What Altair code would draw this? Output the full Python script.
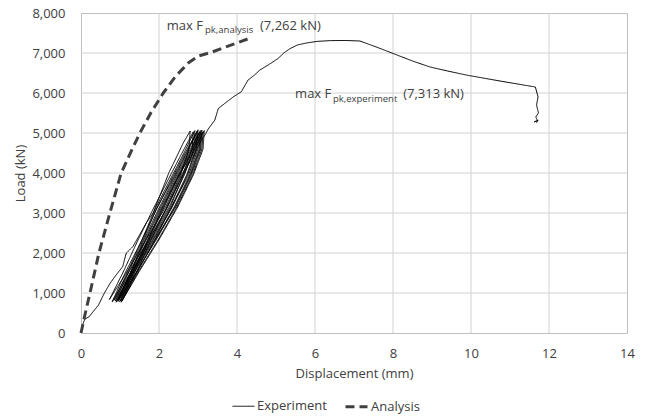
import altair as alt
import pandas as pd

# ---- Experiment: initial loading + first unloading
init_disp = [0.00, 0.04, 0.10, 0.20, 0.30, 0.45, 0.60, 0.75, 0.90, 1.07, 1.12, 1.16, 1.33, 1.50, 1.67,
             1.85, 2.05, 2.25, 2.45, 2.62, 2.80, 2.77, 2.55, 2.17, 1.68, 1.19]
init_load = [0, 200, 350, 400, 520, 700, 1000, 1250, 1450, 1660, 1850, 1995, 2160, 2450, 2745,
             3000, 3500, 4000, 4400, 4750, 5050, 4600, 3950, 3150, 2350, 1550]

# ---- Experiment: repeated load cycles (valley, 5 reloading pts, peak, 5 unloading pts)
cycle_disp = [
    [0.73, 1.07, 1.45, 1.85, 2.27, 2.59, 2.88, 2.85, 2.61, 2.22, 1.75, 1.24],
    [0.80, 1.13, 1.55, 1.90, 2.32, 2.64, 2.92, 2.89, 2.65, 2.26, 1.79, 1.29],
    [0.85, 1.18, 1.55, 1.94, 2.35, 2.67, 2.95, 2.92, 2.63, 2.29, 1.82, 1.32],
    [0.88, 1.21, 1.58, 1.93, 2.38, 2.70, 2.98, 2.95, 2.71, 2.32, 1.85, 1.34],
    [0.90, 1.27, 1.60, 1.99, 2.40, 2.72, 3.00, 2.97, 2.73, 2.34, 1.87, 1.37],
    [0.93, 1.26, 1.63, 2.02, 2.43, 2.75, 3.03, 3.00, 2.76, 2.32, 1.90, 1.39],
    [0.95, 1.28, 1.65, 2.05, 2.46, 2.78, 3.06, 3.03, 2.79, 2.39, 1.92, 1.45],
    [0.97, 1.30, 1.71, 2.07, 2.48, 2.80, 3.08, 3.05, 2.81, 2.41, 1.94, 1.43],
    [0.99, 1.32, 1.69, 2.09, 2.50, 2.82, 3.10, 3.07, 2.83, 2.43, 1.91, 1.45],
    [1.01, 1.34, 1.72, 2.11, 2.49, 2.85, 3.13, 3.10, 2.86, 2.46, 1.99, 1.48],
    [1.03, 1.37, 1.74, 2.18, 2.55, 2.88, 3.16, 3.13, 2.88, 2.48, 2.01, 1.50],
]
cycle_valley_load = [840, 780, 820, 800, 770, 810, 790, 830, 780, 800, 770]
cycle_peak_load = [5030, 5060, 4990, 5050, 5080, 5010, 5060, 5000, 5070, 5030, 5060]
up_loads = [1500, 2300, 3100, 3900, 4500]
down_loads = [4600, 3950, 3150, 2350, 1550]

# ---- Experiment: final loading to failure
final_disp = [1.05, 1.42, 1.78, 2.18, 2.58, 2.92, 3.10, 3.18, 3.25, 3.30, 3.43, 3.52, 3.70, 3.90,
              4.11, 4.28, 4.45, 4.58, 4.80, 5.05, 5.20, 5.36, 5.55, 5.78, 6.05, 6.40, 6.80, 7.15,
              7.60, 8.01, 8.50, 8.95, 9.40, 9.90, 10.80, 11.65, 11.72, 11.68, 11.73, 11.66, 11.71,
              11.62, 11.72, 11.68]
final_load = [800, 1500, 2300, 3100, 3900, 4500, 4850, 4950, 5080, 5150, 5320, 5610, 5750, 5900,
              6030, 6320, 6450, 6570, 6700, 6860, 7000, 7110, 7200, 7250, 7290, 7310, 7313, 7300,
              7140, 6985, 6800, 6650, 6550, 6445, 6290, 6150, 5900, 5700, 5500, 5400, 5300,
              5280, 5320, 5260]

# ---- Analysis
ana_disp = [0.00, 0.10, 0.23, 0.46, 0.74, 1.03, 1.30, 1.51, 1.80, 2.11, 2.41, 2.75, 3.00, 3.35, 3.77, 4.37]
ana_load = [0, 450, 1000, 2000, 3000, 4000, 4570, 5000, 5520, 6000, 6400, 6750, 6920, 7020, 7170, 7385]

x_ticks = [0, 2, 4, 6, 8, 10, 12, 14]
y_ticks = [0, 1000, 2000, 3000, 4000, 5000, 6000, 7000, 8000]
series_names = ["Experiment", "Analysis"]

rows = []
idx = 0
for x, y in zip(init_disp, init_load):
    rows.append({"disp": x, "load": y, "series": "Experiment", "idx": idx}); idx += 1
for k, xs in enumerate(cycle_disp):
    loads = [cycle_valley_load[k]] + up_loads + [cycle_peak_load[k]] + down_loads
    for x, y in zip(xs, loads):
        rows.append({"disp": x, "load": y, "series": "Experiment", "idx": idx}); idx += 1
for x, y in zip(final_disp, final_load):
    rows.append({"disp": x, "load": y, "series": "Experiment", "idx": idx}); idx += 1
for i, (x, y) in enumerate(zip(ana_disp, ana_load)):
    rows.append({"disp": x, "load": y, "series": "Analysis", "idx": i})
df = pd.DataFrame(rows)

# ---- Annotations
ann_main = pd.DataFrame({
    "disp": [2.20, 4.59, 5.49, 8.26],
    "load": [7575, 7575, 5875, 5875],
    "t": ["max F", "(7,262 kN)", "max F", "(7,313 kN)"],
})
ann_sub = pd.DataFrame({
    "disp": [3.18, 6.46],
    "load": [7493, 5775],
    "t": ["pk,analysis", "pk,experiment"],
})

FONT = "Open Sans"
TXT = "#404040"
GRID = "#d2d2d2"
W, H = 546, 320

xscale = alt.Scale(domain=[0, 14], nice=False, zero=False)
yscale = alt.Scale(domain=[0, 8000], nice=False, zero=False)

x_axis = alt.Axis(title="Displacement (mm)", values=x_ticks, format="d",
                  labelPadding=14, labelFlush=False, titleY=40, titleBaseline="middle",
                  grid=False, domain=False, ticks=False)
y_axis = alt.Axis(title="Load (kN)", values=y_ticks, format=",d",
                  labelPadding=16, labelFlush=False, titleX=-61, titleY=160,
                  titleBaseline="middle", titleAngle=270, titleAlign="center",
                  grid=False, domain=False, ticks=False)


def xe():
    return alt.X("disp:Q", scale=xscale, axis=x_axis, title="Displacement (mm)")


def ye():
    return alt.Y("load:Q", scale=yscale, axis=y_axis, title="Load (kN)")


# grid lines at the tick values, with explicit extents
vgrid = alt.Chart(pd.DataFrame({"disp": x_ticks[1:-1]})).mark_rule(
    color=GRID, strokeWidth=1).encode(
    x=xe(), y=alt.value(0), y2=alt.value(H))
hgrid = alt.Chart(pd.DataFrame({"load": y_ticks[1:-1]})).mark_rule(
    color=GRID, strokeWidth=1).encode(
    y=ye(), x=alt.value(0), x2=alt.value(W))

lines = alt.Chart(df).mark_line(strokeJoin="round").encode(
    x=xe(),
    y=ye(),
    color=alt.Color("series:N", scale=alt.Scale(domain=series_names, range=["#000000", "#404040"]),
                    legend=alt.Legend(title=None, orient="none", direction="horizontal",
                                      legendX=151, legendY=381, symbolType="stroke",
                                      symbolSize=484, labelOffset=2, columnPadding=12,
                                      labelFont=FONT, labelFontSize=13, labelColor=TXT)),
    strokeDash=alt.StrokeDash("series:N", scale=alt.Scale(domain=series_names, range=[[1, 0], [9, 5]]),
                              legend=alt.Legend(title=None)),
    strokeWidth=alt.StrokeWidth("series:N", scale=alt.Scale(domain=series_names, range=[1.0, 3]),
                                legend=alt.Legend(title=None)),
    order=alt.Order("idx:Q"),
)

main_text = alt.Chart(ann_main).mark_text(align="left", baseline="alphabetic", font=FONT,
                                           fontSize=13, color=TXT).encode(
    x=xe(), y=ye(), text="t:N")
sub_text = alt.Chart(ann_sub).mark_text(align="left", baseline="alphabetic", font=FONT,
                                         fontSize=9.5, color=TXT).encode(
    x=xe(), y=ye(), text="t:N")

chart = alt.layer(vgrid, hgrid, lines, main_text, sub_text).properties(
    width=W, height=H,
    autosize=alt.AutoSizeParams(type="none"),
    padding={"left": 81, "top": 13, "right": 20, "bottom": 83},
    background="white",
).configure_view(
    stroke="#bfbfbf", strokeWidth=1
).configure_axis(
    labelFont=FONT, labelFontSize=13, labelColor=TXT,
    titleFont=FONT, titleFontSize=13, titleColor=TXT, titleFontWeight="normal",
)

chart.save("out.html", embed_options={"renderer": "svg", "actions": False})
